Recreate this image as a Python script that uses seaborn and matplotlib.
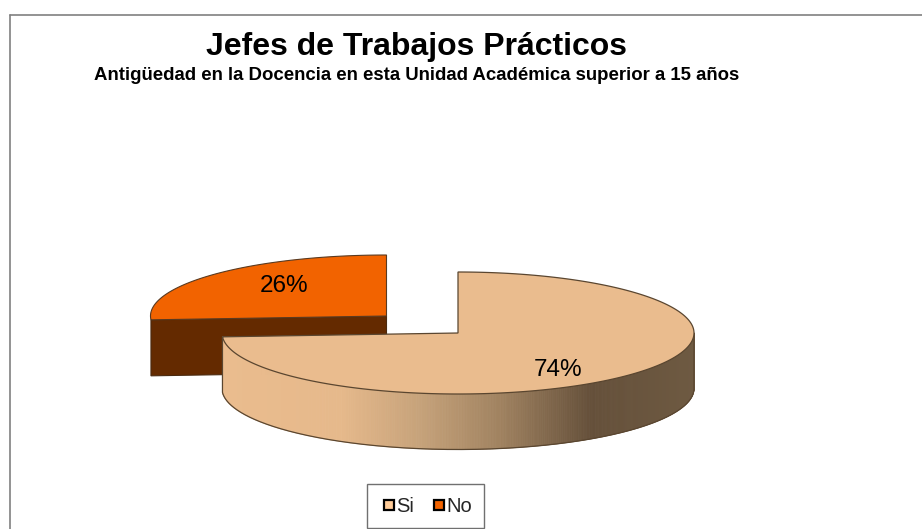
import numpy as np
import matplotlib
matplotlib.use("Agg")
import matplotlib.pyplot as plt
from matplotlib.patches import Polygon, Rectangle
from matplotlib.lines import Line2D
import seaborn as sns

categories = ["Si", "No"]
values = [74, 26]
labels = ["74%", "26%"]
title = "Jefes de Trabajos Prácticos"
subtitle = "Antigüedad en la Docencia en esta Unidad Académica superior a 15 años"
top_colors = ["#EABC8E", "#F26300"]
side_color_no = "#642A00"
legend_colors = ["#FFCC99", "#F26300"]
gradient_stops = [(222, "#EABC8E"), (340, "#E6B98B"), (420, "#C6A27A"), (500, "#A08260"),
                  (590, "#65503A"), (694, "#6E5A42")]

sns.set_theme(style="white")
plt.rcParams["font.family"] = ["Liberation Sans", "DejaVu Sans"]

fig = plt.figure(figsize=(9.22, 5.29), dpi=100)
ax = fig.add_axes([0, 0, 1, 1])
ax.set_xlim(0, 922)
ax.set_ylim(529, 0)
ax.axis("off")

RX, RY = 236, 61
EDGE = "#5A4630"


def rim(cx, cy, a0, a1, n=200):
    t = np.radians(np.linspace(a0, a1, n))
    return cx + RX * np.sin(t), cy - RY * np.cos(t)


fractions = np.array(values) / sum(values) * 360
split = fractions[0]

# frame
ax.plot([10, 10], [529, 15], color="#808080", lw=1.2, zorder=1)
ax.plot([10, 922], [15, 15], color="#808080", lw=1.2, zorder=1)

# "No" slice (exploded): behind the main slice
cx2, cy2, d2 = 386.5, 316, 56
x, y = rim(cx2, cy2, split, 360)
ax.add_patch(Polygon(np.c_[[x[0], x[0], cx2, cx2], [y[0], y[0] + d2, cy2 + d2, cy2]],
                     fc=side_color_no, ec="#4A2A10", lw=0.8, zorder=2))
ax.add_patch(Polygon(np.r_[np.c_[x, y], [[cx2, cy2]]], fc=top_colors[1],
                     ec="#5A3A20", lw=0.8, zorder=3))

# "Si" slice
cx1, cy1, d1 = 458, 333, 55.5
xs, ys = rim(cx1, cy1, 90, split, 500)
stops_x = [s[0] for s in gradient_stops]
stops_rgb = np.array([matplotlib.colors.to_rgb(s[1]) for s in gradient_stops])
for i in range(len(xs) - 1):
    c = [np.interp((xs[i] + xs[i + 1]) / 2, stops_x, stops_rgb[:, k]) for k in range(3)]
    ax.fill([xs[i], xs[i + 1], xs[i + 1], xs[i]],
            [ys[i], ys[i + 1], ys[i + 1] + d1, ys[i] + d1],
            color=c, lw=0.6, zorder=4)
ax.plot(np.r_[xs[0], xs, xs[-1]], np.r_[ys[0], ys + d1, ys[-1]], color=EDGE, lw=0.9, zorder=5)
x, y = rim(cx1, cy1, 0, split, 500)
ax.add_patch(Polygon(np.r_[np.c_[x, y], [[cx1, cy1]]], fc=top_colors[0], ec=EDGE, lw=0.9, zorder=6))

# data labels
ax.text(558, 376, labels[0], fontsize=17.5, ha="center", va="baseline", color="black", zorder=7)
ax.text(284, 292.5, labels[1], fontsize=17.5, ha="center", va="baseline", color="black", zorder=7)

# titles
ax.text(416.5, 55, title, fontsize=23, fontweight="bold", ha="center", va="baseline", color="black")
ax.text(417, 80, subtitle, fontsize=13.4, fontweight="bold", ha="center", va="baseline", color="black")

# legend
ax.add_patch(Rectangle((367, 483.5), 117, 44, fc="white", ec="#707070", lw=1, zorder=8))
handles = [Line2D([], [], ls="", marker="s", ms=7.5, mfc=c, mec="black", mew=1.6) for c in legend_colors]
leg = ax.legend(handles, categories, ncol=2, loc="center", bbox_to_anchor=(425.5, 506.5),
                bbox_transform=ax.transData, frameon=False, fontsize=14.5,
                handletextpad=-0.1, columnspacing=0.7, handlelength=1.0)
leg.set_zorder(9)

fig.savefig("out.png", dpi=100, facecolor="white")
